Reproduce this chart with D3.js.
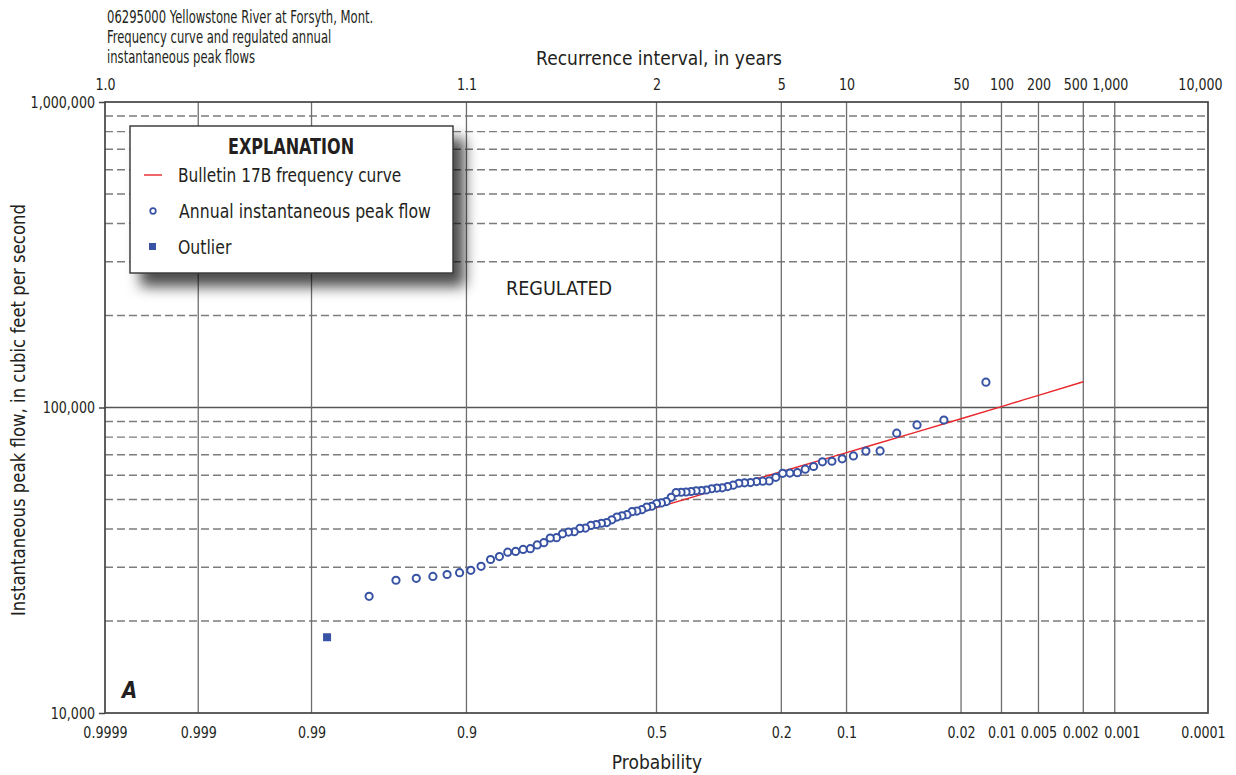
<!DOCTYPE html>
<html>
<head>
<meta charset="utf-8">
<script src="https://cdn.jsdelivr.net/npm/d3@7"></script>
<style>
  html, body { margin: 0; padding: 0; background: #fff; }
  svg { display: block; }
  text { font-family: "Liberation Sans Narrow", "Arial Narrow", "DejaVu Sans Condensed", sans-serif; fill: #231f20; }
</style>
</head>
<body>
<svg id="chart" width="1236" height="775"></svg>
<script>
// Annual instantaneous peak flows (cubic feet per second), regulated record
const outlierFlows = [17700];
const peakFlows = [
  24100, 27200, 27600, 28000, 28400, 28800, 29300, 30200, 31800, 32500,
  33600, 33800, 34300, 34500, 35500, 36100, 37400, 37500, 38600, 39100,
  39200, 40200, 40300, 41100, 41400, 41800, 42000, 42900, 43800, 44200,
  44600, 45600, 45800, 46300, 47200, 47500, 48500, 48700, 49200, 50800,
  52700, 52800, 52900, 53100, 53400, 53500, 53700, 54200, 54500, 54600,
  55100, 55700, 56500, 56700, 56800, 57200, 57400, 57500, 59100, 60900,
  61000, 61200, 62800, 64100, 66400, 66700, 67900, 69400, 72000, 72100,
  82400, 87700, 91000, 121000
];

// Bulletin 17B frequency curve: exceedance probability vs. flow
const curveProb = [0.55, 0.3, 0.2, 0.1, 0.04, 0.02, 0.01, 0.005, 0.002];
const curveFlow = [45100, 55800, 61600, 71200, 83100, 91900, 100700, 109600, 121400];

// Probability axis (bottom) and recurrence-interval axis (top)
const probTicks = [0.9999, 0.999, 0.99, 0.9, 0.5, 0.2, 0.1, 0.02, 0.01, 0.005, 0.002, 0.001, 0.0001];
const probLabels = ["0.9999", "0.999", "0.99", "0.9", "0.5", "0.2", "0.1", "0.02", "0.01", "0.005", "0.002", "0.001", "0.0001"];
const riProbs = [0.9999, 0.9, 0.5, 0.2, 0.1, 0.02, 0.01, 0.005, 0.002, 0.001, 0.0001];
const riLabels = ["1.0", "1.1", "2", "5", "10", "50", "100", "200", "500", "1,000", "10,000"];
const gridProbs = [0.999, 0.99, 0.9, 0.5, 0.2, 0.1, 0.02, 0.01, 0.005, 0.002, 0.001];
const flowTicks = [10000, 100000, 1000000];

// Small horizontal nudges so crowded labels do not collide
const riNudge = { "500": -8, "1,000": -5, "10,000": -8 };
const probNudge = { "0.001": 7, "0.0001": -5, "0.002": -3 };

// Inverse standard normal CDF (Acklam's rational approximation)
function normInv(p) {
  const a = [-3.969683028665376e+01, 2.209460984245205e+02, -2.759285104469687e+02, 1.383577518672690e+02, -3.066479806614716e+01, 2.506628277459239e+00];
  const b = [-5.447609879822406e+01, 1.615858368580409e+02, -1.556989798598866e+02, 6.680131188771972e+01, -1.328068155288572e+01];
  const c = [-7.784894002430293e-03, -3.223964580411365e-01, -2.400758277161838e+00, -2.549732539343734e+00, 4.374664141464968e+00, 2.938163982698783e+00];
  const d = [7.784695709041462e-03, 3.224671290700398e-01, 2.445134137142996e+00, 3.754408661907416e+00];
  const pl = 0.02425, ph = 1 - pl;
  let q, r;
  if (p < pl) {
    q = Math.sqrt(-2 * Math.log(p));
    return (((((c[0]*q+c[1])*q+c[2])*q+c[3])*q+c[4])*q+c[5]) / ((((d[0]*q+d[1])*q+d[2])*q+d[3])*q+1);
  } else if (p <= ph) {
    q = p - 0.5; r = q * q;
    return (((((a[0]*r+a[1])*r+a[2])*r+a[3])*r+a[4])*r+a[5])*q / (((((b[0]*r+b[1])*r+b[2])*r+b[3])*r+b[4])*r+1);
  } else {
    q = Math.sqrt(-2 * Math.log(1 - p));
    return -(((((c[0]*q+c[1])*q+c[2])*q+c[3])*q+c[4])*q+c[5]) / ((((d[0]*q+d[1])*q+d[2])*q+d[3])*q+1);
  }
}
// Exceedance probability -> standard normal deviate (increasing to the right)
const zOf = p => normInv(1 - p);

const plotLeft = 105, plotRight = 1208, plotTop = 102, plotBottom = 713;
const svg = d3.select("#chart");

const x = d3.scaleLinear().domain([zOf(0.9999), zOf(0.0001)]).range([plotLeft, plotRight]);
const y = d3.scaleLog().domain([10000, 1000000]).range([plotBottom, plotTop]);
const px = p => x(zOf(p));

// Condensed text: placed at (tx, ty) and squeezed horizontally
function label(parent, tx, ty, str, size, squeeze, opts = {}) {
  const t = parent.append("text")
    .attr("transform", `translate(${tx},${ty}) scale(${squeeze},1)`)
    .attr("font-size", size)
    .attr("text-anchor", opts.anchor || "start")
    .text(str);
  if (opts.bold) t.attr("font-weight", "bold");
  if (opts.italic) t.attr("font-style", "italic");
  return t;
}

// Shadow for the explanation box
const defs = svg.append("defs");
const f = defs.append("filter").attr("id", "shadow").attr("x", "-10%").attr("y", "-10%").attr("width", "135%").attr("height", "150%");
f.append("feDropShadow").attr("dx", 11).attr("dy", 13).attr("stdDeviation", 7)
  .attr("flood-color", "#000").attr("flood-opacity", 0.7);

// Horizontal grid: dashed minor lines, solid decade line
const minorFlows = [];
[10000, 100000].forEach(dec => { for (let k = 2; k <= 9; k++) minorFlows.push(k * dec); });
svg.append("g").selectAll("line").data(minorFlows).join("line")
  .attr("x1", plotLeft).attr("x2", plotRight)
  .attr("y1", d => y(d)).attr("y2", d => y(d))
  .attr("stroke", "#7c7c7c").attr("stroke-width", 1.4).attr("stroke-dasharray", "8,4");
svg.append("line")
  .attr("x1", plotLeft).attr("x2", plotRight).attr("y1", y(100000)).attr("y2", y(100000))
  .attr("stroke", "#555").attr("stroke-width", 1.3);

// Vertical grid at probability ticks
svg.append("g").selectAll("line").data(gridProbs).join("line")
  .attr("x1", d => px(d)).attr("x2", d => px(d))
  .attr("y1", plotTop).attr("y2", plotBottom)
  .attr("stroke", "#6e6e6e").attr("stroke-width", 1.3);

// Plot frame
svg.append("rect").attr("x", plotLeft).attr("y", plotTop).attr("width", plotRight - plotLeft).attr("height", plotBottom - plotTop)
  .attr("fill", "none").attr("stroke", "#444").attr("stroke-width", 1.7);

const tickSqueeze = 0.88, tickSize = 16;

// Bottom axis: exceedance probability
const xAxisBottom = d3.axisBottom(x)
  .tickValues(probTicks.map(zOf))
  .tickFormat((d, i) => probLabels[i])
  .tickSize(0).tickPadding(14);
const gb = svg.append("g").attr("transform", `translate(0,${plotBottom})`).call(xAxisBottom);
gb.select(".domain").remove();
gb.selectAll("text").attr("font-size", tickSize)
  .attr("dx", (d, i) => (probNudge[probLabels[i]] || 0) / tickSqueeze)
  .attr("transform", `scale(${tickSqueeze},1)`);

// Top axis: recurrence interval
const xAxisTop = d3.axisTop(x)
  .tickValues(riProbs.map(zOf))
  .tickFormat((d, i) => riLabels[i])
  .tickSize(0).tickPadding(12);
const gt = svg.append("g").attr("transform", `translate(0,${plotTop})`).call(xAxisTop);
gt.select(".domain").remove();
gt.selectAll("text").attr("font-size", tickSize)
  .attr("dx", (d, i) => (riNudge[riLabels[i]] || 0) / tickSqueeze)
  .attr("transform", `scale(${tickSqueeze},1)`);

// Left axis: flow
const yAxis = d3.axisLeft(y).tickValues(flowTicks).tickFormat(d3.format(",")).tickSize(6).tickPadding(4);
const gl = svg.append("g").attr("transform", `translate(${plotLeft},0)`).call(yAxis);
gl.select(".domain").remove();
gl.selectAll(".tick line").attr("stroke", "#444").attr("stroke-width", 1.5);
gl.selectAll("text").attr("font-size", tickSize)
  .attr("x", -10 / tickSqueeze)
  .attr("transform", `scale(${tickSqueeze},1)`);

// Axis titles
label(svg, 659, 65, "Recurrence interval, in years", 20, 0.95, { anchor: "middle" });
label(svg, 657, 769, "Probability", 20, 0.95, { anchor: "middle" });
svg.append("text")
  .attr("transform", "translate(25,410) rotate(-90) scale(0.92,1)")
  .attr("text-anchor", "middle").attr("font-size", 20)
  .text("Instantaneous peak flow, in cubic feet per second");

// Heading
const heading = ["06295000 Yellowstone River at Forsyth, Mont.", "Frequency curve and regulated annual", "instantaneous peak flows"];
heading.forEach((s, i) => label(svg, 107, 23 + i * 20, s, 17, 0.76));

// Frequency curve
const line = d3.line().x(d => px(d[0])).y(d => y(d[1])).curve(d3.curveMonotoneX);
svg.append("path").datum(curveProb.map((p, i) => [p, curveFlow[i]]))
  .attr("d", line).attr("fill", "none").attr("stroke", "#e8262b").attr("stroke-width", 1.4);

// Weibull plotting positions for the full record
const all = peakFlows.map(v => ({ v, outlier: false }))
  .concat(outlierFlows.map(v => ({ v, outlier: true })))
  .sort((a, b) => b.v - a.v);
const n = all.length;
all.forEach((d, i) => { d.p = (i + 1) / (n + 1); });

svg.append("g").selectAll("circle").data(all.filter(d => !d.outlier)).join("circle")
  .attr("cx", d => px(d.p)).attr("cy", d => y(d.v)).attr("r", 3.6)
  .attr("fill", "#fff").attr("stroke", "#3953a4").attr("stroke-width", 2);
svg.append("g").selectAll("rect").data(all.filter(d => d.outlier)).join("rect")
  .attr("x", d => px(d.p) - 4).attr("y", d => y(d.v) - 4).attr("width", 8).attr("height", 8)
  .attr("fill", "#3953a4");

// Annotations
label(svg, 559, 295, "REGULATED", 20, 0.98, { anchor: "middle" });
label(svg, 122, 698, "A", 23, 0.95, { bold: true, italic: true });

// Explanation box
const lg = svg.append("g");
lg.append("rect").attr("x", 130).attr("y", 126).attr("width", 323).attr("height", 147)
  .attr("fill", "#fff").attr("stroke", "#333").attr("stroke-width", 1.4).attr("filter", "url(#shadow)");
label(lg, 291, 154, "EXPLANATION", 21, 0.85, { anchor: "middle", bold: true });
lg.append("line").attr("x1", 144).attr("x2", 162).attr("y1", 175).attr("y2", 175)
  .attr("stroke", "#e8262b").attr("stroke-width", 1.4);
label(lg, 178, 182, "Bulletin 17B frequency curve", 19, 0.9);
lg.append("circle").attr("cx", 153).attr("cy", 211).attr("r", 2.8)
  .attr("fill", "#fff").attr("stroke", "#3953a4").attr("stroke-width", 1.7);
label(lg, 179, 218, "Annual instantaneous peak flow", 19, 0.92);
lg.append("rect").attr("x", 149).attr("y", 243).attr("width", 7).attr("height", 7).attr("fill", "#3953a4");
label(lg, 178, 254, "Outlier", 19, 0.92);
</script>
</body>
</html>
